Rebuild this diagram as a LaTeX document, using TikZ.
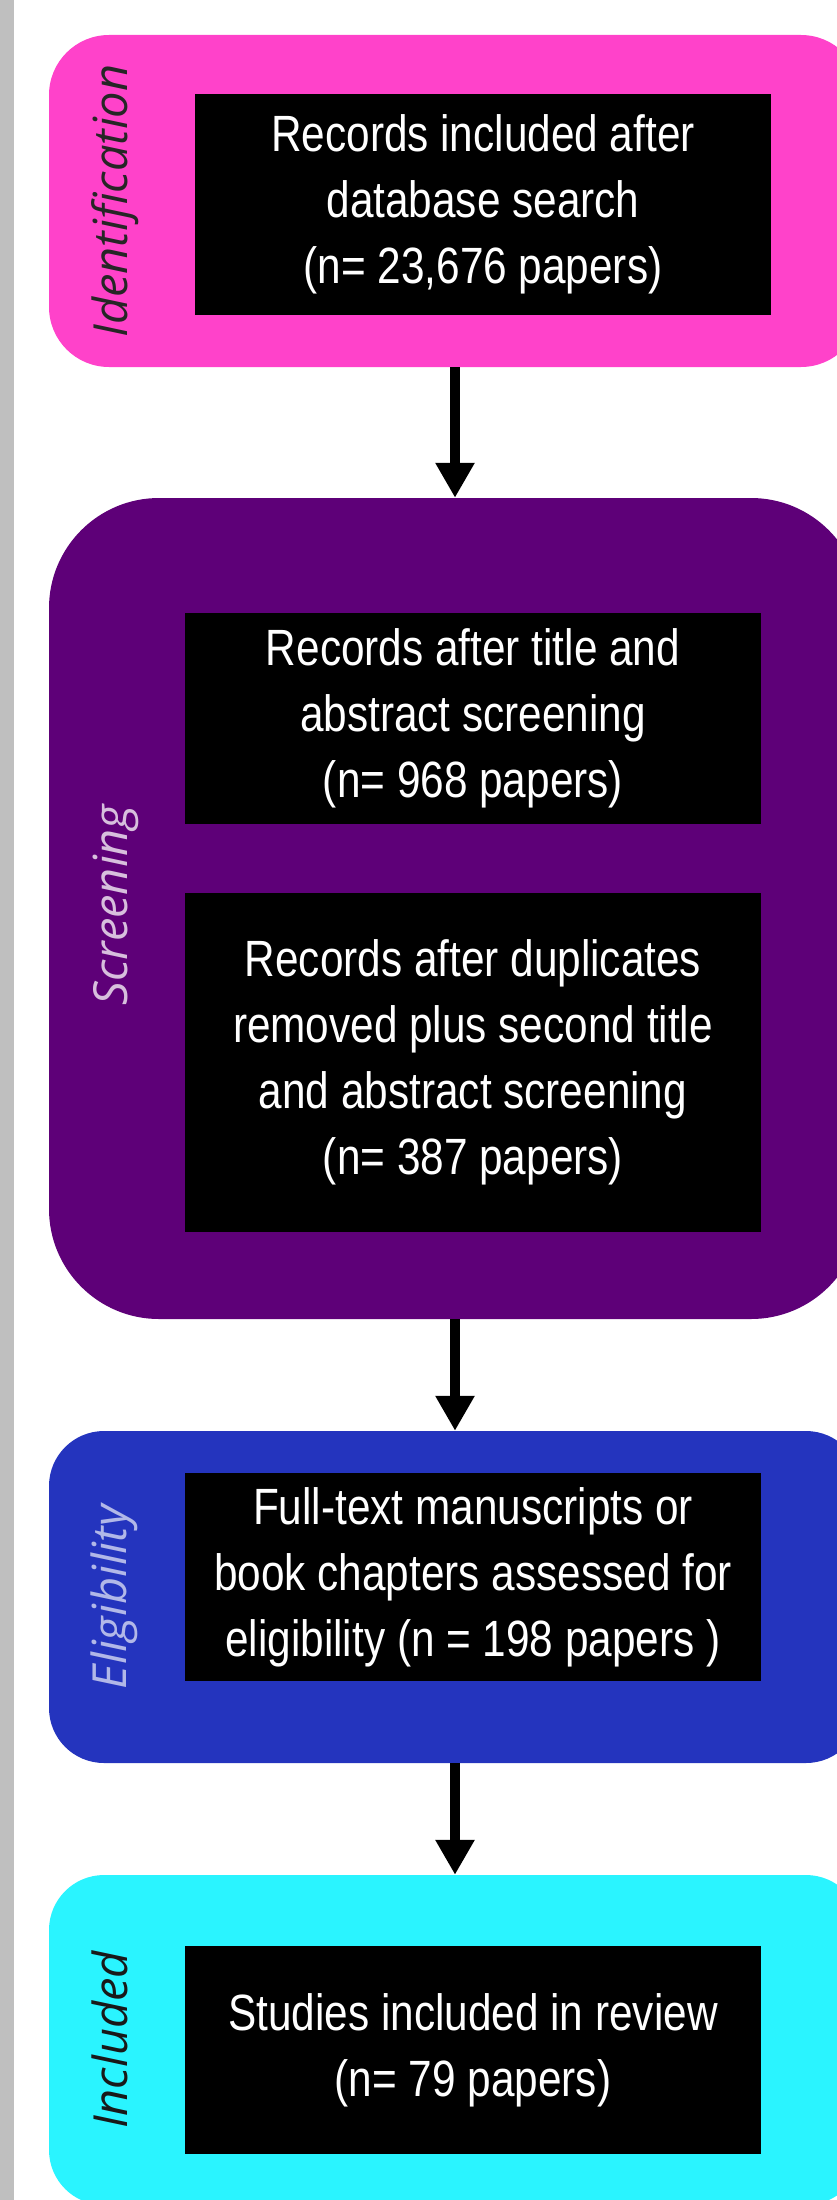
\documentclass[tikz,border=0pt]{standalone}
\usepackage{fontspec}
\setmainfont{Liberation Sans}[FakeStretch=0.83]
\newfontfamily\phasefont{Open Sans}
\usetikzlibrary{arrows.meta}

\definecolor{identpink}{HTML}{FF42CA}
\definecolor{screenpurple}{HTML}{5E0078}
\definecolor{eligblue}{HTML}{2434BE}
\definecolor{inclcyan}{HTML}{2AF4FF}

\begin{document}
\begin{tikzpicture}[x=1pt,y=-1pt,>={Triangle[width=37pt,length=35pt]}]
\tikzstyle{stage}=[rectangle,minimum width=812pt,inner sep=0pt]
\tikzstyle{record}=[rectangle,fill=black,text=white,minimum width=576pt,inner sep=0pt,align=center,font=\fontsize{51}{66}\selectfont]
\tikzstyle{phase}=[rotate=90,anchor=base,inner sep=0pt,font=\phasefont\itshape\fontsize{47}{56}\selectfont]

\useasboundingbox (0,0) rectangle (837,2200);
\fill[gray!50] (0,0) rectangle (14,2200);

% coloured stage panels
\node[stage,fill=identpink,rounded corners=60pt,minimum height=332pt] (ident) at (455,201) {};
\node[stage,fill=screenpurple,rounded corners=110pt,minimum height=821pt] (screen) at (455,908.5) {};
\node[stage,fill=eligblue,rounded corners=55pt,minimum height=332pt] (elig) at (455,1597) {};
\node[stage,fill=inclcyan,rounded corners=55pt,minimum height=330pt] (incl) at (455,2040) {};

% stage names
\node[phase,text=black!85] (identlbl) at (127,201) {Identification};
\node[phase,text=screenpurple!25!white] (screenlbl) at (127,905) {Screening};
\node[phase,text=eligblue!35!white] (eliglbl) at (126,1597) {Eligibility};
\node[phase,text=black!90] (incllbl) at (127,2040) {Included};

% record counts
\node[record,minimum height=221pt] (search) at (483,204.5) {Records included after\\database search\\(n= 23,676 papers)};
\node[record,minimum height=211pt] (titleabs) at (473,718.5) {Records after title and\\abstract screening\\(n= 968 papers)};
\node[record,minimum height=339pt] (dupl) at (473,1062.5) {Records after duplicates\\removed plus second title\\and abstract screening\\(n= 387 papers)};
\node[record,minimum height=208pt] (fulltext) at (473,1577) {Full-text manuscripts or\\book chapters assessed for\\eligibility (n = 198 papers )};
\node[record,minimum height=208pt] (review) at (473,2050) {Studies included in review\\(n= 79 papers)};

\draw[->,line width=10pt] (ident) -- (screen);
\draw[->,line width=10pt] (screen) -- (elig);
\draw[->,line width=10pt] (elig) -- (incl);
\end{tikzpicture}
\end{document}
